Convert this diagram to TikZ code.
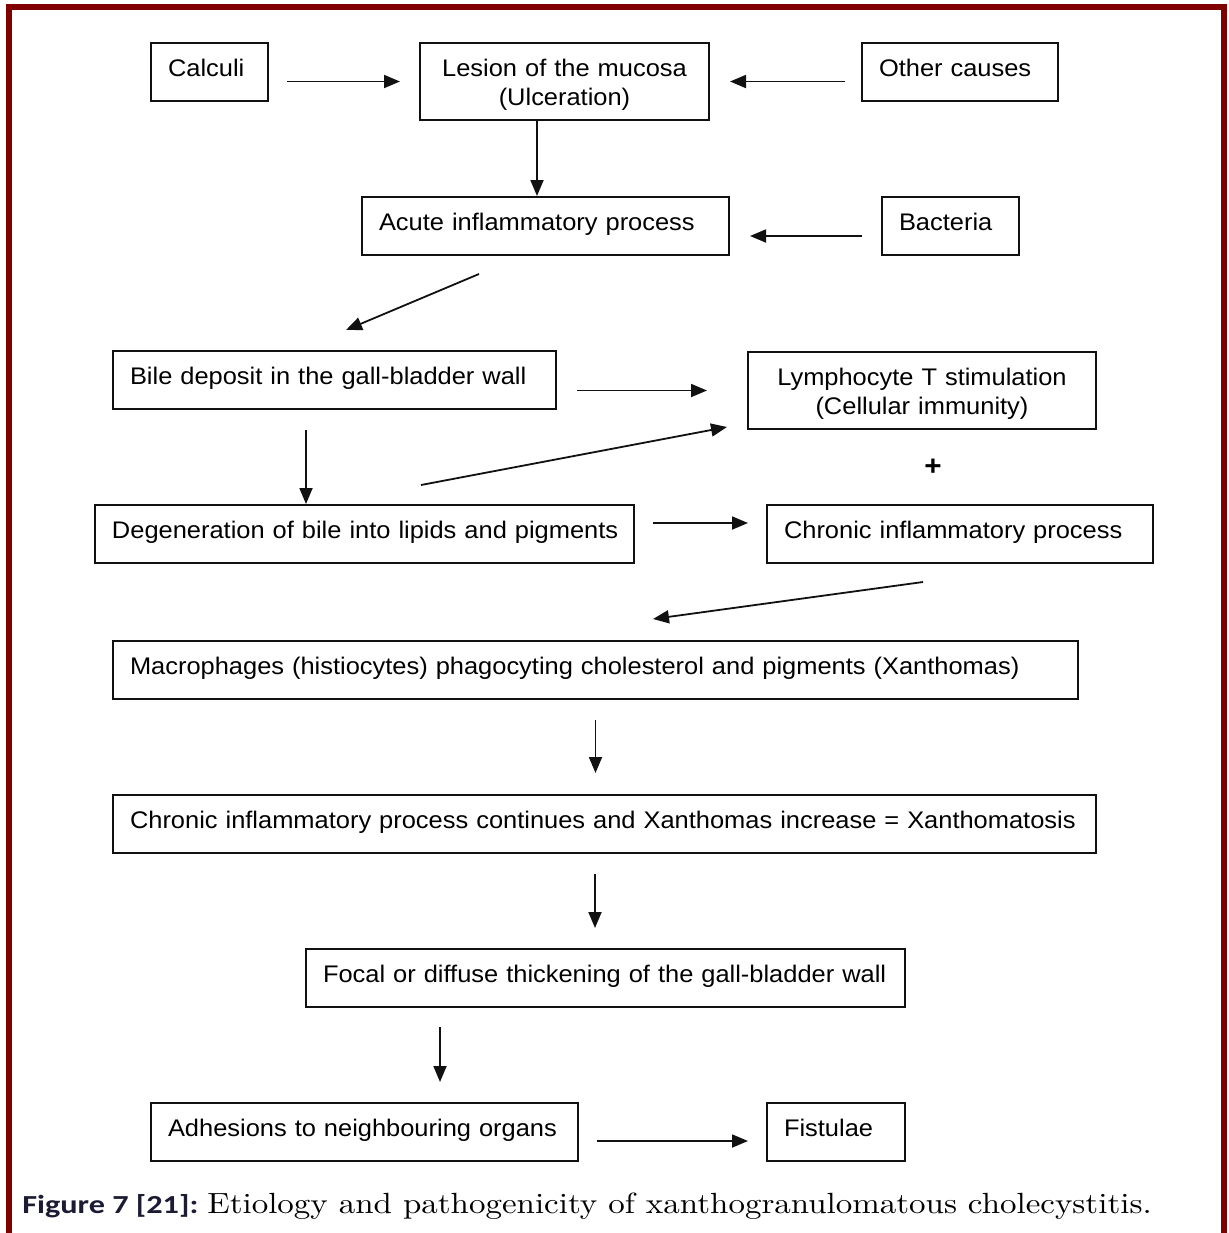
\documentclass[tikz,border=0pt]{standalone}
\usepackage{fontspec}
\setsansfont{Liberation Sans}[FakeStretch=1.06]
\newfontfamily\capsans{Carlito}[FakeStretch=1.24]
\newfontfamily\capserif{lmroman10-regular.otf}[FakeStretch=1.13]
\usetikzlibrary{
  arrows.meta,
  positioning,
  calc
}
\definecolor{xgcframe}{HTML}{800000}
\definecolor{xgcink}{HTML}{111111}
\definecolor{xgcnavy}{HTML}{1B1B33}

\begin{document}
\begin{tikzpicture}[
      x=0.5pt, y=-0.5pt,
      block/.style={
        rectangle, draw=xgcink, line width=1pt, fill=white,
        anchor=north west, align=left,
        inner xsep=8.5pt, inner ysep=7.5pt,
        text height=9pt, text depth=5pt,
        font=\sffamily\fontsize{12}{14.5}\selectfont
      },
      twoline/.style={align=center, text depth=14.5pt},
      arrow/.style={-{Triangle[length=8pt, width=6.5pt]}, line width=0.9pt, xgcink},
      caption/.style={anchor=base west, inner sep=0pt}
    ]
      \useasboundingbox (0,0) rectangle (1228,1233);

      % Frame
      \draw[xgcframe, line width=3pt] (9,1233) -- (9,7) -- (1224,7) -- (1224,1233);

      % Blocks
      \node[block, text width=41.5pt] (calc) at (150,42) {Calculi};
      \node[block, twoline, text width=127.5pt] (les) at (419,42) {Lesion of the mucosa\\(Ulceration)};
      \node[block, text width=81pt] (oth) at (861,42) {Other causes};
      \node[block, text width=166.5pt] (acute) at (361,196) {Acute inflammatory process};
      \node[block, text width=51.5pt] (bac) at (881,196) {Bacteria};
      \node[block, text width=204.5pt] (bile) at (112,350) {Bile deposit in the gall-bladder wall};
      \node[block, twoline, text width=157pt] (lym) at (747,351) {Lymphocyte T stimulation\\(Cellular immunity)};
      \node[block, text width=252.5pt] (degen) at (94,504) {\mbox{Degeneration of bile into lipids and pigments}};
      \node[block, text width=176pt] (chron) at (766,504) {Chronic inflammatory process};
      \node[block, text width=465.5pt] (macro) at (112,640) {\mbox{Macrophages (histiocytes) phagocyting cholesterol and pigments (Xanthomas)}};
      \node[block, text width=474.5pt] (cont) at (112,794) {\mbox{Chronic inflammatory process continues and Xanthomas increase = Xanthomatosis}};
      \node[block, text width=282.5pt] (focal) at (305,948) {Focal or diffuse thickening of the gall-bladder wall};
      \node[block, text width=196.5pt] (adh) at (150,1102) {Adhesions to neighbouring organs};
      \node[block, text width=52pt] (fist) at (766,1102) {Fistulae};

      \node[font=\sffamily\bfseries\fontsize{14}{14}\selectfont, inner sep=0pt] (plus) at (933,467) {+};

      % Arrows
      \draw[arrow, shorten <=9pt, shorten >=9.5pt] (calc.east |- les) -- (les.west);
      \draw[arrow, shorten <=8pt, shorten >=10pt] (oth.west |- les) -- (les.east);
      \draw[arrow] ([xshift=-4.25pt]acute.north |- les.south) -- ([xshift=-4.25pt]acute.north);
      \draw[arrow, shorten <=9.5pt, shorten >=10pt] ([yshift=-5pt]bac.west) -- ([yshift=-5pt]bac.west -| acute.east);
      \draw[arrow] ([shift={(-66.5,18)}]acute.south) -- ([shift={(11.5,-20)}]bile.north);
      \draw[arrow, shorten <=10pt, shorten >=20pt] (bile.east |- lym) -- (lym.west);
      \draw[arrow, shorten <=10pt] ([xshift=-14.25pt]bile.south) -- ([xshift=-14.25pt]bile.south |- degen.north);
      \draw[arrow] ([shift={(56.5,-19)}]degen.north) -- ([shift={(-20,-3)}]lym.south west);
      \draw[arrow, shorten <=9pt, shorten >=9pt] ([yshift=5.5pt]degen.east) -- ([yshift=5.5pt]degen.east -| chron.west);
      \draw[arrow] ([shift={(-37,18)}]chron.south) -- ([shift={(57.5,-21)}]macro.north);
      \draw[arrow, shorten <=10pt, shorten >=10.5pt] (macro.south) -- (macro.south |- cont.north);
      \draw[arrow, shorten <=10pt, shorten >=10pt] ([xshift=-4.75pt]cont.south) -- ([xshift=-4.75pt]cont.south |- focal.north);
      \draw[arrow, shorten <=9.5pt, shorten >=10pt] ([xshift=67.5pt]focal.south west) -- ([xshift=67.5pt]focal.south west |- adh.north);
      \draw[arrow, shorten <=9pt, shorten >=9pt] ([yshift=-4.5pt]adh.east) -- ([yshift=-4.5pt]adh.east -| fist.west);

      % Caption
      \node[caption] (cap) at (22,1213)
        {{\capsans\bfseries\color{xgcnavy}\fontsize{13}{13}\selectfont Figure 7 [21]:}
         \capserif\fontsize{14.6}{14.6}\selectfont Etiology and pathogenicity of xanthogranulomatous cholecystitis.};
    \end{tikzpicture}
\end{document}
